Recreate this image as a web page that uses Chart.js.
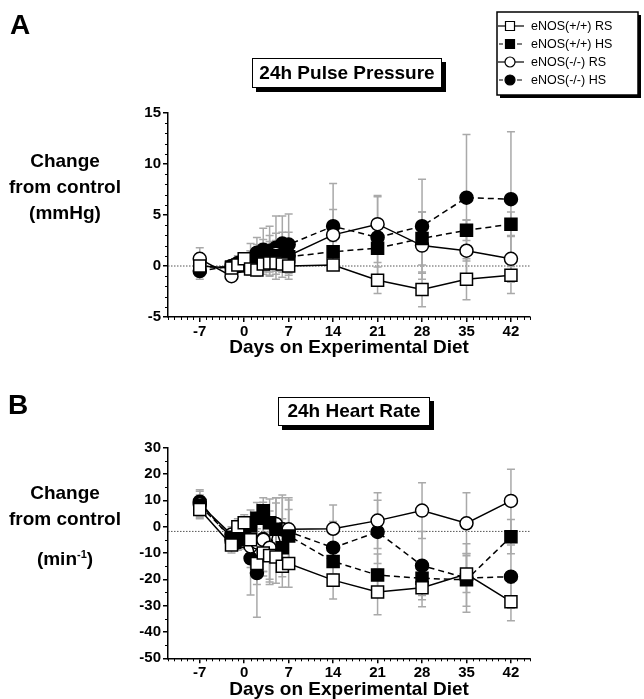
<!DOCTYPE html>
<html>
<head>
<meta charset="utf-8">
<script src="https://cdn.jsdelivr.net/npm/chart.js@4.4.1/dist/chart.umd.min.js"></script>
<style>
  body { margin: 0; background: #fff; font-family: "Liberation Sans", Arial, sans-serif; }
  #wrap { position: relative; width: 644px; height: 699px; overflow: hidden; }
  canvas { position: absolute; left: 0; }
  .txt { position: absolute; font-weight: bold; color: #000; white-space: nowrap; }
  .panel { font-size: 28px; line-height: 28px; }
  .side { left: 0; width: 130px; text-align: center; font-size: 19px; line-height: 26px; }
  .side sup { font-size: 11px; }
  .tbox { border: 1.5px solid #000; box-shadow: 4px 4px 0 #000; background: #fff;
          text-align: center; font-size: 19px; box-sizing: border-box; }
</style>
</head>
<body>
<div id="wrap">
  <canvas id="ppChart" width="644" height="370" style="top:0"></canvas>
  <canvas id="hrChart" width="644" height="329" style="top:370px"></canvas>

  <div class="txt panel" style="left:10px;top:11px">A</div>
  <div class="txt panel" style="left:8px;top:391px">B</div>

  <div class="txt tbox" style="left:252px;top:58px;width:190px;height:30px;line-height:27px">24h Pulse Pressure</div>
  <div class="txt tbox" style="left:278px;top:397px;width:152px;height:29px;line-height:26px">24h Heart Rate</div>

  <div class="txt side" style="top:148px">Change</div>
  <div class="txt side" style="top:174px">from control</div>
  <div class="txt side" style="top:200px">(mmHg)</div>

  <div class="txt side" style="top:480px">Change</div>
  <div class="txt side" style="top:506px">from control</div>
  <div class="txt side" style="top:541px">(min<sup>-1</sup>)</div>
</div>

<script>
// ---- data ----
const days = [-7, -2, -1, 0, 1, 2, 3, 4, 5, 6, 7, 14, 21, 28, 35, 42];
const xTickDays = [-7, 0, 7, 14, 21, 28, 35, 42];
const seriesLabels = ['eNOS(+/+) RS', 'eNOS(+/+) HS', 'eNOS(-/-) RS', 'eNOS(-/-) HS'];

// 24h pulse pressure, change from control (mmHg)
const ppWtRS = [0.0, -0.2, 0.1, 0.7, -0.3, -0.4, 0.2, 0.3, 0.3, 0.2, 0.0, 0.1, -1.4, -2.3, -1.3, -0.9];
const ppWtHS = [-0.1, -0.1, 0.0, 0.1, 0.5, 0.6, 0.8, 0.9, 1.0, 1.0, 0.9, 1.4, 1.75, 2.7, 3.5, 4.1];
const ppKoRS = [0.7, -1.0, 0.0, 0.3, 0.3, 0.6, 0.9, 1.0, 1.2, 1.1, 1.0, 3.05, 4.1, 2.0, 1.5, 0.7];
const ppKoHS = [-0.5, 0.0, 0.3, 0.4, 0.7, 1.3, 1.6, 1.5, 1.8, 2.2, 2.1, 3.9, 2.8, 3.9, 6.7, 6.55];
const ppWtRSErr = [0.8, 0.5, 0.5, 0.6, 0.6, 0.6, 0.7, 0.7, 0.8, 0.8, 0.6, 0.5, 1.3, 1.7, 2.0, 1.8];
const ppWtHSErr = [0.8, 0.5, 0.5, 0.6, 1.0, 1.2, 1.4, 1.5, 1.5, 1.6, 1.6, 1.0, 1.4, 2.6, 1.0, 1.2];
const ppKoRSErr = [1.1, 0.5, 0.6, 0.6, 1.2, 1.5, 1.7, 2.0, 2.0, 2.2, 2.3, 2.5, 2.8, 3.3, 3.0, 2.3];
const ppKoHSErr = [0.8, 0.6, 0.7, 0.7, 1.5, 1.5, 2.1, 2.4, 3.1, 2.7, 3.0, 4.2, 4.0, 4.6, 6.2, 6.6];

// 24h heart rate, change from control (min-1)
const hrWtRS = [6.5, -7.0, 0.0, 1.5, -5.0, -14.0, -10.0, -11.0, -11.5, -15.0, -14.0, -20.3, -24.8, -23.2, -18.0, -28.5];
const hrWtHS = [8.0, -4.0, -5.0, -3.0, 0.3, 3.2, 6.0, 1.5, -1.0, -8.0, -3.5, -13.2, -18.4, -19.6, -20.2, -3.8];
const hrKoRS = [8.5, -3.0, -2.0, -5.5, -7.5, -6.0, -5.0, -8.0, 1.0, -1.0, -1.0, -0.8, 2.3, 6.1, 1.3, 9.8];
const hrKoHS = [9.5, -5.0, -6.0, -3.0, -12.0, -17.6, -4.7, -9.0, 0.0, -1.0, -1.9, -8.0, -2.0, -14.8, -19.5, -19.0];
const hrWtRSErr = [3.5, 3, 3, 3, 6, 8, 7, 9, 10, 8, 9, 7.2, 8.7, 7.2, 7, 7.2];
const hrWtHSErr = [4, 3, 3, 3, 6, 6, 5, 9, 10, 11, 10, 7, 8, 6.5, 10, 6.5];
const hrKoRSErr = [5, 3, 3, 3, 8, 10, 12, 14, 10, 12, 12, 9, 10.6, 10.6, 11.6, 12];
const hrKoHSErr = [4.5, 3, 3, 3, 14, 16.8, 14, 12, 11, 13, 12, 10, 12, 13, 13, 12];

// ---- styles ----
const FONT = '"Liberation Sans", Arial, sans-serif';
const seriesStyle = [
  { shape: 'rect',   radius: 8.5, fill: '#fff', dash: [] },
  { shape: 'rect',   radius: 8.5, fill: '#000', dash: [6, 4] },
  { shape: 'circle', radius: 6.5, fill: '#fff', dash: [] },
  { shape: 'circle', radius: 6.5, fill: '#000', dash: [6, 4] }
];

Chart.defaults.font.family = FONT;
Chart.defaults.color = '#000';

function makeSets(vals, errs) {
  return vals.map((v, k) => ({
    label: seriesLabels[k],
    data: days.map((d, i) => ({ x: d, y: v[i] })),
    errors: errs[k],
    borderColor: '#000',
    borderWidth: 1.5,
    borderDash: seriesStyle[k].dash,
    tension: 0,
    pointStyle: seriesStyle[k].shape,
    pointRadius: seriesStyle[k].radius,
    pointBackgroundColor: seriesStyle[k].fill,
    pointBorderColor: '#000',
    pointBorderWidth: 1.5
  }));
}

function marker(ctx, shape, x, y, r, fill) {
  ctx.beginPath();
  if (shape === 'circle') ctx.arc(x, y, r, 0, Math.PI * 2);
  else ctx.rect(x - r, y - r, 2 * r, 2 * r);
  ctx.fillStyle = fill;
  ctx.fill();
  ctx.stroke();
}

// reference line, error bars, minor ticks, legend
const extras = {
  id: 'extras',
  beforeDatasetsDraw(chart, args, opts) {
    const { ctx, chartArea: a, scales: { x, y } } = chart;
    ctx.save();
    ctx.strokeStyle = '#555';
    ctx.lineWidth = 1;
    ctx.setLineDash([1.5, 1.5]);
    const ry = y.getPixelForValue(opts.refLine);
    ctx.beginPath();
    ctx.moveTo(a.left, ry);
    ctx.lineTo(a.right, ry);
    ctx.stroke();
    ctx.setLineDash([]);

    ctx.strokeStyle = '#a9a9a9';
    ctx.lineWidth = 1.5;
    chart.data.datasets.forEach(ds => {
      ds.data.forEach((p, i) => {
        const e = ds.errors[i];
        const px = x.getPixelForValue(p.x);
        const top = y.getPixelForValue(p.y + e);
        const bot = y.getPixelForValue(p.y - e);
        ctx.beginPath();
        ctx.moveTo(px, top); ctx.lineTo(px, bot);
        ctx.moveTo(px - 4, top); ctx.lineTo(px + 4, top);
        ctx.moveTo(px - 4, bot); ctx.lineTo(px + 4, bot);
        ctx.stroke();
      });
    });
    ctx.restore();
  },
  afterDraw(chart, args, opts) {
    const { ctx, chartArea: a, scales: { x, y } } = chart;
    ctx.save();
    ctx.strokeStyle = '#000';
    ctx.lineWidth = 1;
    ctx.beginPath();
    for (let d = Math.ceil(x.min); d <= x.max; d++) {
      if (xTickDays.includes(d)) continue;
      const px = Math.round(x.getPixelForValue(d)) + 0.5;
      ctx.moveTo(px, a.bottom); ctx.lineTo(px, a.bottom + 3);
    }
    for (let v = y.min; v <= y.max; v += opts.yMinor) {
      if (v % opts.yMajor === 0) continue;
      const py = Math.round(y.getPixelForValue(v)) + 0.5;
      ctx.moveTo(a.left, py); ctx.lineTo(a.left - 3, py);
    }
    ctx.stroke();

    if (opts.legend) {
      const bx = 497, by = 12, bw = 141, bh = 83;
      ctx.fillStyle = '#000';
      ctx.fillRect(bx + 3, by + 3, bw, bh);
      ctx.fillStyle = '#fff';
      ctx.fillRect(bx, by, bw, bh);
      ctx.lineWidth = 1.5;
      ctx.strokeRect(bx, by, bw, bh);
      const rows = [26, 44, 62, 80];
      ctx.font = '12.5px ' + FONT;
      ctx.textBaseline = 'middle';
      chart.data.datasets.forEach((ds, k) => {
        const st = seriesStyle[k];
        const ly = rows[k];
        ctx.lineWidth = 1.2;
        ctx.beginPath();
        if (st.dash.length) {
          ctx.moveTo(499, ly); ctx.lineTo(503, ly);
          ctx.moveTo(517, ly); ctx.lineTo(522, ly);
        } else {
          ctx.moveTo(498, ly); ctx.lineTo(524, ly);
        }
        ctx.stroke();
        ctx.lineWidth = 1.2;
        marker(ctx, st.shape, 510, ly, st.shape === 'circle' ? 5 : 4.5, st.fill);
        ctx.fillStyle = '#000';
        ctx.fillText(ds.label, 531, ly + 0.5);
      });
    }
    ctx.restore();
  }
};

function buildChart(id, sets, yMin, yMax, yStep, opts, padTop, padBottom, xHeight) {
  return new Chart(document.getElementById(id), {
    type: 'line',
    data: { datasets: sets },
    options: {
      responsive: false,
      animation: false,
      devicePixelRatio: 1,
      layout: { padding: { left: 120, right: 114, top: padTop, bottom: padBottom } },
      plugins: { legend: { display: false }, tooltip: { enabled: false }, extras: opts },
      scales: {
        x: {
          type: 'linear', min: -12, max: 45,
          afterBuildTicks: s => { s.ticks = xTickDays.map(v => ({ value: v })); },
          afterFit: s => { s.height = xHeight; },
          ticks: { autoSkip: false, maxRotation: 0, padding: 1, color: '#000',
                   font: { size: 15, weight: 'bold' }, callback: v => String(v) },
          grid: { drawOnChartArea: false, tickLength: 5, color: '#000', lineWidth: 1.5 },
          border: { color: '#000', width: 1.5 },
          title: { display: true, text: 'Days on Experimental Diet', color: '#000', padding: 0,
                   font: { size: 19, weight: 'bold', lineHeight: 1 } }
        },
        y: {
          min: yMin, max: yMax,
          afterFit: s => { s.width = 48; },
          ticks: { stepSize: yStep, padding: 2, color: '#000',
                   font: { size: 15, weight: 'bold' }, callback: v => String(v) },
          grid: { drawOnChartArea: false, tickLength: 5, color: '#000', lineWidth: 1.5 },
          border: { color: '#000', width: 1.5 }
        }
      }
    },
    plugins: [extras]
  });
}

buildChart('ppChart',
  makeSets([ppWtRS, ppWtHS, ppKoRS, ppKoHS], [ppWtRSErr, ppWtHSErr, ppKoRSErr, ppKoHSErr]),
  -5, 15, 5, { refLine: 0, yMinor: 1, yMajor: 5, legend: true }, 113, 13, 40);

buildChart('hrChart',
  makeSets([hrWtRS, hrWtHS, hrKoRS, hrKoHS], [hrWtRSErr, hrWtHSErr, hrKoRSErr, hrKoHSErr]),
  -50, 30, 10, { refLine: -1.8, yMinor: 5, yMajor: 10, legend: false }, 77.7, 0, 40.7);
</script>
</body>
</html>
